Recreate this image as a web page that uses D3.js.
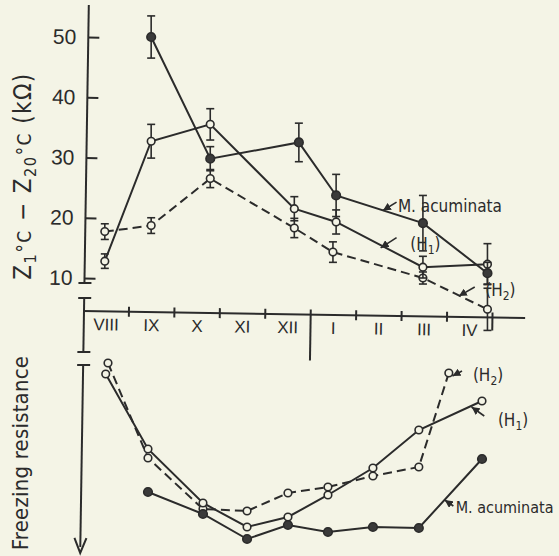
<!DOCTYPE html>
<html>
<head>
<meta charset="utf-8">
<script src="https://cdn.jsdelivr.net/npm/d3@7"></script>
<style>
    body { margin: 0; background: #f4f4e6; }
    svg { display: block; font-family: "DejaVu Sans Condensed", "DejaVu Sans", sans-serif; font-stretch: condensed; }
</style>
</head>
<body>
<div id="vis"></div>
<script>
// Canvas size
const width = 559;
const height = 556;
const ink = '#2b2b2b';
const paper = '#f4f4e6';

// Month labels, August -> April
const months = ['VIII', 'IX', 'X', 'XI', 'XII', 'I', 'II', 'III', 'IV'];
const zTicks = [10, 20, 30, 40, 50];

// Upper panel: Z1°C - Z20°C (kOhm); dates are months counted from 1 August
const acumDates = [1.5, 2.8, 4.75, 5.57, 7.48, 8.9];
const acumZ = [50, 29.8, 32.5, 23.7, 19.1, 10.8];
const acumErr = [3.5, 2.0, 3.2, 3.5, 4.6, 1.8];

const h1Dates = [0.48, 1.5, 2.8, 4.65, 5.57, 7.48, 8.9];
const h1Z = [12.8, 32.7, 35.5, 21.5, 19.3, 11.8, 12.3];
const h1Err = [1.2, 2.8, 2.6, 2.0, 2.0, 1.8, 3.4];

const h2Dates = [0.48, 1.5, 2.8, 4.65, 5.5, 7.48, 8.9];
const h2Z = [17.7, 18.7, 26.5, 18.3, 14.3, 10.0, 4.8];
const h2Err = [1.3, 1.3, 1.5, 1.6, 1.7, 1.0, 3.5];

// Lower panel: freezing resistance (relative units, increasing downwards)
const frH1Dates = [0.5, 1.43, 2.64, 3.61, 4.51, 5.39, 6.38, 7.39, 8.78];
const frH1 = [1.2, 4.95, 7.65, 8.85, 8.35, 7.25, 5.9, 4.0, 2.55];
const frH2Dates = [0.55, 1.43, 2.64, 3.61, 4.51, 5.39, 6.38, 7.39, 8.05];
const frH2 = [0.65, 5.4, 7.95, 8.05, 7.15, 6.85, 6.3, 5.85, 1.15];
const frAcumDates = [1.43, 2.64, 3.61, 4.51, 5.39, 6.38, 7.39, 8.78];
const frAcum = [7.1, 8.2, 9.45, 8.75, 9.1, 8.85, 8.9, 5.45];

// Scales
let x = d3.scaleLinear().domain([0, 9]).range([83, 492]);
let yZ = d3.scaleLinear().domain([10, 50]).range([278, 37]);
let yF = d3.scaleLinear().domain([0, 10]).range([350, 550]);

let svg = d3.select('#vis')
    .append('svg')
    .attr('width', width)
    .attr('height', height);

svg.append('rect').attr('width', width).attr('height', height).attr('fill', paper);

// small arrow head for the leader lines
svg.append('defs').append('marker')
    .attr('id', 'arr')
    .attr('markerUnits', 'userSpaceOnUse')
    .attr('markerWidth', 9).attr('markerHeight', 8)
    .attr('refX', 8).attr('refY', 4)
    .attr('orient', 'auto')
    .append('path')
    .attr('d', 'M0,0 L8,4 L0,8 Z')
    .attr('fill', ink);

// ---- axes (the scan is slightly rotated) ----
let axes = svg.append('g').attr('transform', 'rotate(0.9, 84, 311)');

let yAxis = d3.axisLeft(yZ).tickValues(zTicks).tickSize(-11).tickPadding(12);
axes.append('g')
    .attr('transform', 'translate(84,0)')
    .call(yAxis)
    .call(g => g.select('.domain').remove())
    .call(g => g.selectAll('line').attr('stroke', ink).attr('stroke-width', 2))
    .call(g => g.selectAll('text')
        .attr('fill', ink)
        .attr('font-size', 21)
        .attr('font-family', null));

// vertical axis pieces with break marks
const axisPieces = [[5, 283], [298, 352], [365, 547]];
axes.selectAll('.vpiece')
    .data(axisPieces)
    .join('line')
    .attr('class', 'vpiece')
    .attr('x1', 84).attr('x2', 84)
    .attr('y1', d => d[0]).attr('y2', d => d[1])
    .attr('stroke', ink).attr('stroke-width', 2);

axes.selectAll('.cap')
    .data([283, 298, 352, 365])
    .join('line')
    .attr('class', 'cap')
    .attr('x1', 78).attr('x2', 91)
    .attr('y1', d => d).attr('y2', d => d)
    .attr('stroke', ink).attr('stroke-width', 2);

// arrow at the bottom of the freezing resistance axis
axes.append('path')
    .attr('d', 'M78,538 L84,553 L90,538')
    .attr('fill', 'none')
    .attr('stroke', ink).attr('stroke-width', 2);

// month axis
let xg = axes.append('g').attr('transform', 'translate(0,311)');
xg.append('line')
    .attr('x1', x(0)).attr('x2', x(9.73))
    .attr('stroke', ink).attr('stroke-width', 2);

let xTicks = d3.axisBottom(x).tickValues(d3.range(1, 10)).tickSize(5).tickFormat('');
xg.append('g')
    .call(xTicks)
    .call(g => g.select('.domain').remove())
    .call(g => g.selectAll('line')
        .attr('y1', -5)
        .attr('y2', d => d === 5 ? 46 : (d === 9 ? 13 : 5))
        .attr('stroke', ink).attr('stroke-width', 2));

let xLabels = d3.axisBottom(x)
    .tickValues(d3.range(9).map(i => i + 0.5))
    .tickSize(0).tickPadding(7)
    .tickFormat((d, i) => months[i]);
xg.append('g')
    .call(xLabels)
    .call(g => g.select('.domain').remove())
    .call(g => g.selectAll('text')
        .attr('fill', ink)
        .attr('font-size', 17)
        .attr('font-family', null));

// ---- axis titles ----
function richText(g, parts, size) {
    let t = g.append('text').attr('fill', ink).attr('font-size', size).attr('text-anchor', 'middle');
    let shift = 0;
    parts.forEach(p => {
        let want = p.sub ? 5 : 0;
        t.append('tspan')
            .attr('dy', want - shift)
            .attr('font-size', p.sub ? size * 0.68 : (p.small ? size * 0.8 : size))
            .text(p.t);
        shift = want;
    });
    return t;
}

richText(svg.append('g').attr('transform', 'translate(31,176) rotate(-90)'), [
    { t: 'Z' }, { t: '1', sub: true }, { t: '°C', small: true }, { t: ' − Z' },
    { t: '20', sub: true }, { t: '°C', small: true }, { t: '  (kΩ)' }
], 24).attr('letter-spacing', 1.4);

svg.append('text')
    .attr('transform', 'translate(28,453) rotate(-90)')
    .attr('text-anchor', 'middle')
    .attr('fill', ink)
    .attr('font-size', 22)
    .attr('letter-spacing', 0.2)
    .text('Freezing resistance');

// ---- series ----
function drawSeries(dates, vals, yScale, opt) {
    let pts = dates.map((d, i) => ({ d: d, v: vals[i], e: opt.err ? opt.err[i] : 0 }));
    let g = svg.append('g');

    g.append('path')
        .datum(pts)
        .attr('fill', 'none')
        .attr('stroke', ink)
        .attr('stroke-width', 2)
        .attr('stroke-dasharray', opt.dashed ? '9,5' : null)
        .attr('d', d3.line().x(p => x(p.d)).y(p => yScale(p.v)));

    if (opt.err) {
        let eb = g.selectAll('.err').data(pts).join('g').attr('class', 'err');
        eb.append('line')
            .attr('x1', p => x(p.d)).attr('x2', p => x(p.d))
            .attr('y1', p => yScale(p.v + p.e)).attr('y2', p => yScale(p.v - p.e))
            .attr('stroke', ink).attr('stroke-width', 1.6);
        eb.selectAll('.c')
            .data(p => [[p.d, p.v + p.e], [p.d, p.v - p.e]])
            .join('line')
            .attr('x1', c => x(c[0]) - 4).attr('x2', c => x(c[0]) + 4)
            .attr('y1', c => yScale(c[1])).attr('y2', c => yScale(c[1]))
            .attr('stroke', ink).attr('stroke-width', 1.6);
    }

    g.selectAll('circle')
        .data(pts)
        .join('circle')
        .attr('cx', p => x(p.d))
        .attr('cy', p => yScale(p.v))
        .attr('r', opt.filled ? 4.3 : 3.8)
        .attr('fill', opt.filled ? '#3a3a3a' : paper)
        .attr('stroke', ink)
        .attr('stroke-width', 1.6);
}

drawSeries(h2Dates, h2Z, yZ, { dashed: true, err: h2Err });
drawSeries(h1Dates, h1Z, yZ, { err: h1Err });
drawSeries(acumDates, acumZ, yZ, { filled: true, err: acumErr });

drawSeries(frH2Dates, frH2, yF, { dashed: true });
drawSeries(frH1Dates, frH1, yF, {});
drawSeries(frAcumDates, frAcum, yF, { filled: true });

// ---- series labels with leader arrows ----
function seriesLabel(yScale, at, parts, from, to, size) {
    size = size || 17;
    svg.append('line')
        .attr('x1', x(from[0])).attr('y1', yScale(from[1]))
        .attr('x2', x(to[0])).attr('y2', yScale(to[1]))
        .attr('stroke', ink).attr('stroke-width', 1.6)
        .attr('marker-end', 'url(#arr)');
    let t = svg.append('text')
        .attr('x', x(at[0])).attr('y', yScale(at[1]))
        .attr('fill', ink).attr('font-size', size);
    let shift = 0;
    parts.forEach(p => {
        let want = p.sub ? 4 : 0;
        t.append('tspan')
            .attr('dy', want - shift)
            .attr('font-size', p.sub ? size * 0.7 : size)
            .text(p.t);
        shift = want;
    });
}

const hLabel = n => [{ t: '(H' }, { t: n, sub: true }, { t: ')' }];

seriesLabel(yZ, [6.93, 21.0], [{ t: 'M. acuminata' }], [6.9, 22.6], [6.6, 21.2]);
seriesLabel(yZ, [7.2, 14.6], hLabel('1'), [6.9, 16.7], [6.55, 15.0]);
seriesLabel(yZ, [8.85, 7.0], hLabel('2'), [8.62, 8.5], [8.27, 7.0]);

seriesLabel(yF, [8.58, 1.55], hLabel('2'), [8.34, 1.05], [8.13, 1.3]);
seriesLabel(yF, [9.13, 3.8], hLabel('1'), [8.83, 3.3], [8.55, 2.85]);
seriesLabel(yF, [8.2, 8.15], [{ t: 'M. acuminata' }], [8.15, 7.8], [7.96, 7.5], 16);
</script>
</body>
</html>
